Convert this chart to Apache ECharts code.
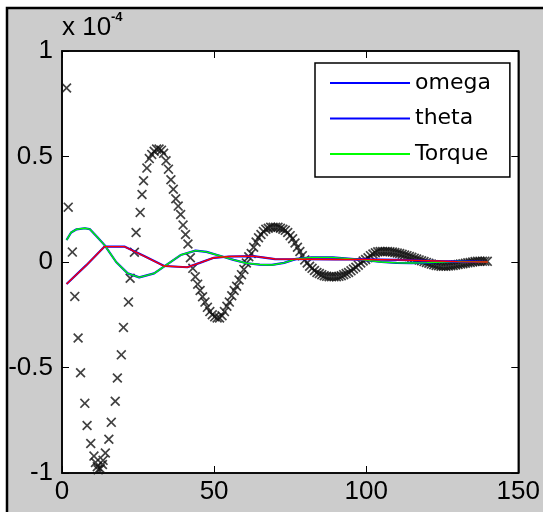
<!DOCTYPE html>
<html>
<head>
<meta charset="utf-8">
<script src="https://cdn.jsdelivr.net/npm/echarts@6/dist/echarts.min.js"></script>
<style>html,body{margin:0;padding:0;background:#fff;}#c{width:543px;height:512px;}</style>
</head>
<body>
<div id="c"></div>
<script>
// x-marker series (values in units of 1e-4)
const markerX = [1.5,2.05,3.4,4.2,5.3,6.1,7.5,8.25,9.45,10.5,11.0,11.6,11.9,12.6,13.3,13.5,14.25,15.4,16.2,17.5,18.2,19.5,20.2,21.85,22.4,23.8,24.35,25.7,26.3,26.8,27.9,28.7,29.5,30.3,31.1,31.9,32.7,
33.4,34.2,35.0,35.8,36.6,37.4,38.2,39.0,39.8,40.6,41.4,42.2,43.0,43.8,44.6,45.4,46.2,47.0,47.8,48.6,49.4,50.2,51.0,51.8,52.6,53.4,54.2,55.0,55.8,56.6,57.4,58.2,59.0,59.8,60.6,61.4,
62.2,63.0,63.8,64.6,65.4,66.2,67.0,67.8,68.6,69.4,70.2,71.0,71.8,72.6,73.4,74.2,75.0,75.8,76.6,77.4,78.2,79.0,79.8,80.6,81.4,82.2,83.0,83.8,84.6,85.4,86.2,87.0,87.8,88.6,89.4,90.2,91.0,91.8,92.6,93.4,94.2,95.0,95.8,96.6,97.4,98.2,99.0,
99.8,100.6,101.4,102.2,103.0,103.8,104.6,105.4,106.2,107.0,107.8,108.6,109.4,110.2,111.0,111.8,112.6,113.4,114.2,115.0,115.8,116.6,117.4,118.2,119.0,119.8,120.6,121.4,122.2,123.0,123.8,124.6,125.4,126.2,127.0,127.8,128.6,129.4,130.2,131.0,131.8,132.6,133.4,134.2,135.0,135.8,136.6,137.4,138.2,139.0,139.8];
const markerY = [0.825,0.26,0.047,-0.163,-0.36,-0.525,-0.67,-0.775,-0.86,-0.92,-0.95,-0.97,-0.985,-0.98,-0.96,-0.94,-0.905,-0.84,-0.76,-0.66,-0.55,-0.44,-0.31,-0.19,-0.077,0.046,0.14,0.235,0.32,0.385,0.445,0.49,0.51,0.525,0.535,0.535,0.53,
0.515,0.48,0.44,0.39,0.345,0.30,0.265,0.225,0.175,0.13,0.085,0.02,-0.03,-0.07,-0.105,-0.135,-0.165,-0.19,-0.215,-0.235,-0.25,-0.26,-0.265,-0.265,-0.255,-0.235,-0.21,-0.19,-0.16,-0.135,-0.115,-0.085,-0.06,-0.035,-0.005,0.025,
0.04,0.07,0.095,0.115,0.13,0.145,0.155,0.16,0.165,0.165,0.165,0.165,0.16,0.155,0.15,0.14,0.125,0.11,0.09,0.07,0.05,0.03,0.01,-0.005,-0.02,-0.03,-0.04,-0.05,-0.055,-0.06,-0.065,-0.068,-0.07,-0.07,-0.07,-0.07,-0.068,-0.065,-0.06,-0.055,-0.05,-0.042,-0.033,-0.025,-0.015,-0.005,0.005,
0.012,0.02,0.03,0.038,0.044,0.048,0.05,0.05,0.05,0.05,0.048,0.047,0.045,0.043,0.04,0.037,0.033,0.03,0.026,0.022,0.018,0.014,0.01,0.006,0.002,-0.002,-0.006,-0.01,-0.013,-0.016,-0.018,-0.02,-0.02,-0.02,-0.019,-0.018,-0.016,-0.014,-0.012,-0.01,-0.008,-0.006,-0.004,-0.002,0,0.002,0.003,0.004,0.004,0.004,0.003];

// omega / Torque lines
const torqueX = [1.5,3,4.8,7.5,9.1,11.5,14,17.8,21.6,25.4,30.3,34.7,39,43.9,47.5,51,56.4,60.7,65,69,73,77,82,89,94,99,105,110,115,120,125,130,135,140];
const omegaY  = [0.104,0.14,0.155,0.16,0.156,0.12,0.08,0.0,-0.054,-0.073,-0.054,-0.01,0.033,0.054,0.048,0.033,0.01,-0.006,-0.012,-0.014,-0.004,0.015,0.022,0.022,0.016,0.01,0.0,-0.004,-0.005,-0.003,0.0,0.003,0.002,0.0];
const torqueY = [0.104,0.14,0.155,0.16,0.156,0.12,0.08,0.0,-0.054,-0.073,-0.054,-0.01,0.033,0.054,0.048,0.033,0.01,-0.006,-0.012,-0.014,-0.004,0.015,0.022,0.022,0.016,0.01,0.0,-0.004,-0.005,-0.003,0.0,0.003,0.002,0.0];

// theta / red line
const thetaX = [1.5,8,14,20.5,27,33.6,41.2,45.5,49.9,55,62.9,70,80,90,100,110,120,130,140];
const thetaY = [-0.104,-0.015,0.073,0.073,0.028,-0.019,-0.025,-0.003,0.02,0.026,0.028,0.014,0.013,0.012,0.012,0.01,0.006,0.002,0.0];
const redY   = [-0.104,-0.015,0.073,0.073,0.028,-0.019,-0.025,-0.003,0.02,0.026,0.028,0.014,0.013,0.012,0.012,0.01,0.006,0.002,0.0];

const xTicks = {min: 0, max: 150, interval: 50};
const yTicks = {min: -1, max: 1, interval: 0.5};
const legendNames = ['omega', 'theta', 'Torque'];

function pairs(xs, ys) { return xs.map((x, i) => [x, ys[i]]); }

const tickFont = {fontFamily: 'Liberation Sans, Arial, sans-serif', fontSize: 26, color: '#000'};
const xMark = 'path://M0,1.2L1.2,0L5,3.8L8.8,0L10,1.2L6.2,5L10,8.8L8.8,10L5,6.2L1.2,10L0,8.8L3.8,5Z';

const chart = echarts.init(document.getElementById('c'), null, {renderer: 'canvas'});
const baseTick = {inside: true, length: 7, lineStyle: {color: '#000', width: 1}};
const baseLine = {show: true, onZero: false, lineStyle: {color: '#000', width: 1.5}};
chart.setOption({
  animation: false,
  backgroundColor: '#fff',
  graphic: [
    {type: 'rect', z: -10, shape: {x: 7, y: 8, width: 560, height: 530}, style: {fill: '#cccccc', stroke: '#000', lineWidth: 2.5}},
    {type: 'text', z: 10, x: 62, y: 41, style: {text: 'x 10', fontFamily: 'Liberation Sans, Arial, sans-serif', fontSize: 26, fill: '#000', textVerticalAlign: 'bottom'}},
    {type: 'text', z: 10, x: 111, y: 24, style: {text: '-4', fontFamily: 'Liberation Sans, Arial, sans-serif', fontSize: 13, fontWeight: 'bold', fill: '#000', textVerticalAlign: 'bottom'}}
  ],
  grid: {left: 62, top: 51, width: 460, height: 422, show: true, backgroundColor: '#fff', borderColor: '#000', borderWidth: 1.5},
  legend: {
    data: legendNames, orient: 'vertical', left: 315, top: 63,
    icon: 'rect', itemWidth: 80, itemHeight: 2, itemGap: 13.5,
    padding: [9, 19, 12, 15], borderColor: '#000', borderWidth: 1.5, backgroundColor: '#fff',
    textStyle: {fontFamily: 'DejaVu Sans, sans-serif', fontSize: 22, lineHeight: 22, color: '#000'}
  },
  xAxis: [
    {type: 'value', position: 'bottom', min: xTicks.min, max: xTicks.max, interval: xTicks.interval,
     axisLine: baseLine, axisTick: baseTick, splitLine: {show: false},
     axisLabel: Object.assign({margin: 6}, tickFont)},
    {type: 'value', position: 'top', min: xTicks.min, max: xTicks.max, interval: xTicks.interval,
     axisLine: baseLine, axisTick: baseTick, splitLine: {show: false}, axisLabel: {show: false}}
  ],
  yAxis: [
    {type: 'value', position: 'left', min: yTicks.min, max: yTicks.max, interval: yTicks.interval,
     axisLine: baseLine, axisTick: baseTick, splitLine: {show: false},
     axisLabel: Object.assign({margin: 9}, tickFont)},
    {type: 'value', position: 'right', min: yTicks.min, max: yTicks.max, interval: yTicks.interval,
     axisLine: baseLine, axisTick: baseTick, splitLine: {show: false}, axisLabel: {show: false}}
  ],
  series: [
    {name: 'data', type: 'scatter', z: 1, symbol: xMark, symbolSize: 10, itemStyle: {color: '#111'}, data: pairs(markerX, markerY)},
    {name: 'omega', type: 'line', z: 2, symbol: 'none', color: '#0000ff', lineStyle: {color: '#0000ff', width: 2.2}, data: pairs(torqueX, omegaY)},
    {name: 'theta', type: 'line', z: 2, symbol: 'none', color: '#0000ff', lineStyle: {color: '#0000ff', width: 2.2}, data: pairs(thetaX, thetaY)},
    {name: 'Torque', type: 'line', z: 3, symbol: 'none', color: '#00ff00', lineStyle: {color: '#00ff00', width: 1.4}, data: pairs(torqueX, torqueY)},
    {name: 'theta_r', type: 'line', z: 3, symbol: 'none', color: '#ff0000', lineStyle: {color: '#ff0000', width: 1.4}, data: pairs(thetaX, redY)}
  ]
});
</script>
</body>
</html>
